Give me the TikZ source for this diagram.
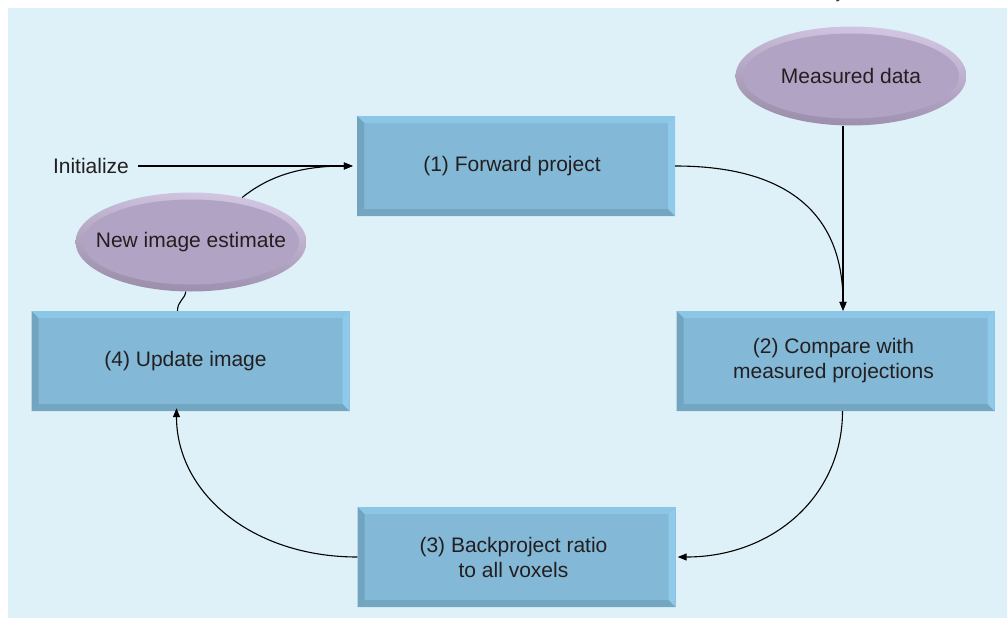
\documentclass[tikz,border=0pt]{standalone}
\usepackage{fontspec}
\setmainfont{Liberation Sans}
\usetikzlibrary{arrows.meta,shapes.geometric,calc,shadings}
\definecolor{bgc}{RGB}{223,241,248}
\definecolor{face}{RGB}{131,184,215}
\definecolor{bvtop}{RGB}{140,198,230}
\definecolor{bvright}{RGB}{143,202,235}
\definecolor{bvleft}{RGB}{114,164,192}
\definecolor{bvbot}{RGB}{115,166,193}
\definecolor{eface}{RGB}{177,163,196}
\definecolor{eul}{RGB}{200,187,216}
\definecolor{eur}{RGB}{216,205,232}
\definecolor{ell}{RGB}{149,138,166}
\definecolor{elr}{RGB}{163,149,181}
\definecolor{txt}{RGB}{35,31,32}
\tikzset{
  lbl/.style={font=\fontsize{21}{25}\selectfont, text=txt, align=center},
  bevelbox/.style={rectangle, lbl, minimum width=318pt, minimum height=100pt, inner sep=0pt, fill=face,
    path picture={
      \fill[bvtop] (path picture bounding box.north west) -- (path picture bounding box.north east)
        -- ([xshift=-7pt,yshift=-7pt]path picture bounding box.north east)
        -- ([xshift=7pt,yshift=-7pt]path picture bounding box.north west) -- cycle;
      \fill[bvbot] (path picture bounding box.south west) -- (path picture bounding box.south east)
        -- ([xshift=-7pt,yshift=7pt]path picture bounding box.south east)
        -- ([xshift=7pt,yshift=7pt]path picture bounding box.south west) -- cycle;
      \fill[bvleft] (path picture bounding box.north west) -- (path picture bounding box.south west)
        -- ([xshift=7pt,yshift=7pt]path picture bounding box.south west)
        -- ([xshift=7pt,yshift=-7pt]path picture bounding box.north west) -- cycle;
      \fill[bvright] (path picture bounding box.north east) -- (path picture bounding box.south east)
        -- ([xshift=-7pt,yshift=7pt]path picture bounding box.south east)
        -- ([xshift=-7pt,yshift=-7pt]path picture bounding box.north east) -- cycle;
    }},
  bevelell/.style={ellipse, lbl, minimum width=231pt, minimum height=99pt, inner sep=0pt,
    path picture={
      \shade[upper left=eul, upper right=eur, lower left=ell, lower right=elr]
        (path picture bounding box.south west) rectangle (path picture bounding box.north east);
      \fill[eface] (path picture bounding box.center) ellipse [x radius=108pt, y radius=42.5pt];
    }},
  conn/.style={line width=1.1pt, black},
  arr/.style={conn, -{Triangle[length=9pt,width=7pt]}}
}
\begin{document}
\begin{tikzpicture}[x=1pt,y=-1pt]
  \useasboundingbox (0,0) rectangle (1007,618);
  \fill[bgc] (8,8) rectangle (1007,618);
  \begin{scope}
    \clip (0,0) rectangle (1007,8);
    \node[font=\fontsize{16}{18}\selectfont\itshape, text=txt, anchor=base] (ytop) at (841,-1) {y};
  \end{scope}

  \node[bevelbox] (b1) at (516,166) {\hspace*{-8pt}(1) Forward project};
  \node[bevelbox] (b2) at (835.5,361) {\hspace*{-4pt}(2) Compare with\\\hspace*{-4pt}measured projections};
  \node[bevelbox] (b3) at (516.5,557) {\hspace*{-6pt}(3) Backproject ratio\\\hspace*{-6pt}to all voxels};
  \node[bevelbox] (b4) at (190.5,361) {\hspace*{-10pt}(4) Update image};

  \node[bevelell] (md) at (851,76) {\makebox[0pt]{Measured data}};
  \node[bevelell] (ne) at (191,242) {\makebox[0pt]{New image estimate}};

  \node[lbl, inner sep=0pt] (init) at (91,166) {Initialize};
  \coordinate (mdbot) at ([xshift=-8pt]md.south);
  \coordinate (b2top) at (mdbot |- b2.north);
  \coordinate (b2bot) at ([xshift=7pt]b2.south);
  \coordinate (b4bot) at ([xshift=-14pt]b4.south);
  \coordinate (b4top) at ([xshift=-13pt]b4.north);

  \draw[arr] ([xshift=9pt]init.east) -- ([xshift=-4pt]b1.west);
  \draw[arr] (ne.41) .. controls +(25,-20) and +(-55,0) .. ([xshift=-4pt]b1.west);
  \draw[arr] (b1.east) .. controls +(115,0) and +(0,-95) .. (b2top);
  \draw[arr] (mdbot) -- (b2top);
  \draw[arr] (b2bot) .. controls +(0,85) and +(95,0) .. ([xshift=2pt]b3.east);
  \draw[arr] (b3.west) .. controls +(-105,0) and +(0,85) .. ([yshift=3pt]b4bot);
  \draw[conn] (b4top) .. controls +(0,-10) and +(-1,8) .. (ne.264);
\end{tikzpicture}
\end{document}
